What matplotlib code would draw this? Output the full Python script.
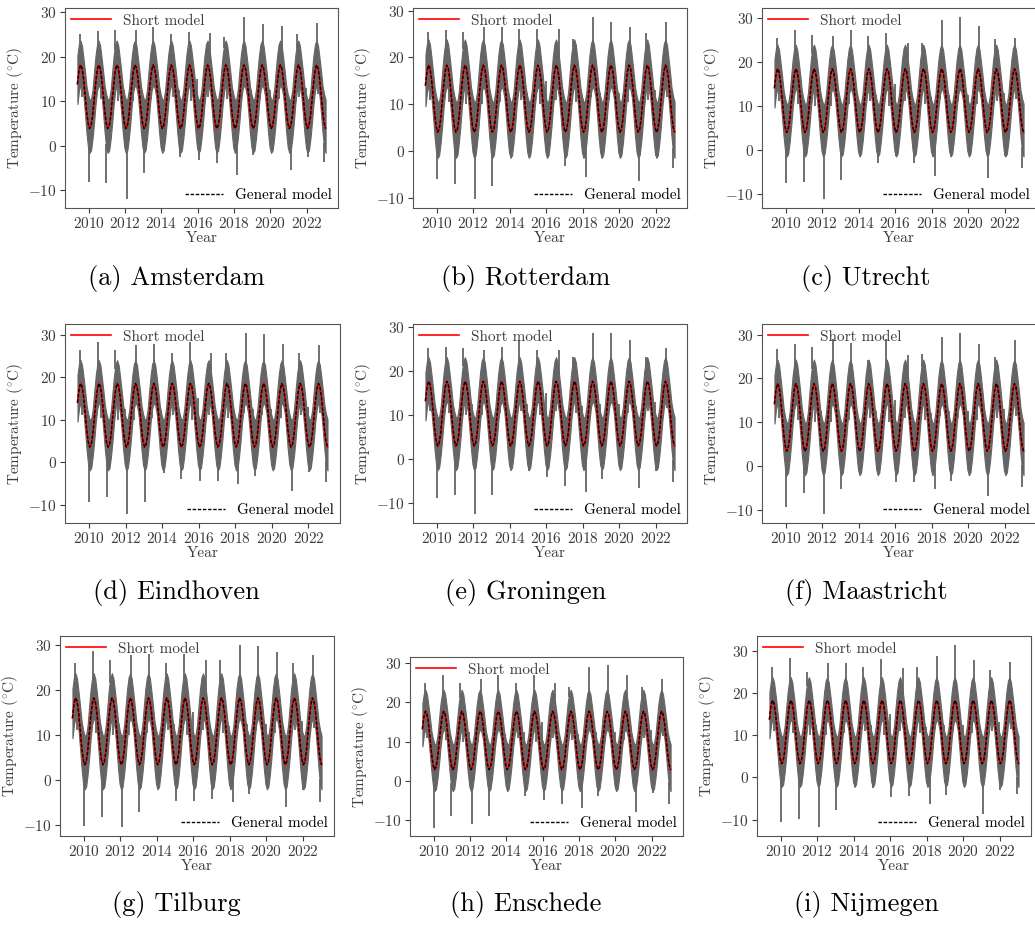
import numpy as np
import matplotlib
matplotlib.use("Agg")
import matplotlib.pyplot as plt

plt.rcParams["font.family"] = "cmr10"
plt.rcParams["mathtext.fontset"] = "cm"
plt.rcParams["axes.formatter.use_mathtext"] = True
plt.rcParams["font.size"] = 11

W, H = 1035, 927

cities = ["Amsterdam", "Rotterdam", "Utrecht", "Eindhoven", "Groningen",
          "Maastricht", "Tilburg", "Enschede", "Nijmegen"]
letters = ["a", "b", "c", "d", "e", "f", "g", "h", "i"]

# seasonal shape of the fitted model per month, 0 = winter low, 1 = summer high
month_shape = [0.01, 0.05, 0.20, 0.445, 0.70, 0.905, 0.995, 0.95, 0.79, 0.55, 0.29, 0.095]
# spread of the daily values around the model per month (deg C)
band_up = [6.5, 6.0, 6.0, 6.5, 6.5, 6.0, 5.5, 5.0, 4.5, 5.0, 5.5, 6.5]
band_lo = [-5.5, -5.5, -5.0, -5.0, -4.5, -4.5, -4.5, -4.5, -4.0, -4.5, -5.0, -5.5]

model_low = [3.7, 3.9, 3.8, 3.4, 2.8, 3.2, 3.2, 2.7, 3.1]
model_high = [18.2, 18.4, 18.5, 18.6, 17.7, 18.9, 18.3, 17.8, 18.3]

# dates of the yearly warmest and coldest days
summer_dates = [2009.50, 2010.52, 2011.45, 2012.60, 2013.56, 2014.52, 2015.50,
                2016.68, 2017.47, 2018.57, 2019.57, 2020.62, 2021.47, 2022.55]
winter_dates = [2010.02, 2010.97, 2012.09, 2013.05, 2014.08, 2015.05, 2016.05,
                2017.05, 2018.16, 2019.07, 2020.05, 2021.11, 2022.05, 2022.96]

summer_max = {
    "Amsterdam":  [25.1, 25.7, 25.9, 25.9, 26.6, 25.0, 25.5, 25.3, 24.4, 28.9, 27.4, 27.0, 25.1, 27.5],
    "Rotterdam":  [25.4, 25.9, 25.4, 26.5, 26.5, 26.1, 26.1, 26.1, 24.0, 28.6, 27.5, 26.5, 25.1, 27.5],
    "Utrecht":    [25.4, 27.3, 26.2, 25.8, 27.2, 25.8, 26.6, 24.3, 24.3, 29.5, 30.2, 28.1, 25.1, 25.4],
    "Eindhoven":  [26.3, 28.3, 26.3, 27.5, 27.9, 25.6, 28.3, 25.6, 25.6, 30.4, 30.2, 27.9, 25.6, 27.5],
    "Groningen":  [25.1, 25.5, 25.1, 24.7, 25.5, 27.0, 24.7, 24.7, 23.2, 28.6, 28.6, 27.0, 23.2, 25.1],
    "Maastricht": [26.8, 28.0, 27.2, 29.1, 28.1, 24.2, 29.1, 25.3, 25.7, 29.5, 30.4, 28.0, 24.9, 28.9],
    "Tilburg":    [25.9, 28.7, 26.7, 27.8, 28.1, 25.9, 28.1, 26.7, 26.7, 30.0, 29.8, 28.5, 25.9, 27.8],
    "Enschede":   [25.0, 27.0, 25.0, 26.0, 27.0, 25.0, 27.0, 25.0, 24.0, 29.0, 29.5, 27.0, 24.0, 26.0],
    "Nijmegen":   [26.2, 28.2, 25.0, 27.0, 27.0, 26.2, 27.9, 25.8, 26.2, 28.7, 31.3, 27.8, 25.4, 27.2],
}
winter_min = {
    "Amsterdam":  [-8.1, -8.4, -12.0, -6.2, -0.6, -2.5, -3.2, -4.0, -6.6, -2.1, -0.4, -5.4, -2.5, -3.6],
    "Rotterdam":  [-6.0, -7.0, -10.2, -7.4, 1.1, -0.7, -1.0, -3.1, -5.6, -1.4, 1.1, -6.3, -1.0, -3.5],
    "Utrecht":    [-7.6, -7.4, -11.2, -6.8, 0.8, -3.0, -1.5, -3.0, -6.0, -1.5, 0.8, -6.4, -1.5, -4.1],
    "Eindhoven":  [-9.5, -8.3, -12.2, -9.5, -2.5, -4.0, -4.4, -4.4, -5.2, -3.2, -0.9, -6.7, -2.3, -4.6],
    "Groningen":  [-8.9, -8.3, -12.5, -8.3, -0.1, -2.7, -4.2, -6.1, -7.6, -4.6, -1.6, -6.5, -2.7, -5.3],
    "Maastricht": [-9.5, -6.1, -11.0, -5.3, 0.0, -1.5, -3.8, -3.8, -5.3, -3.4, 0.0, -6.8, -1.5, -4.9],
    "Tilburg":    [-10.4, -8.3, -10.5, -7.2, -0.9, -4.7, -4.7, -4.2, -4.9, -3.1, -0.1, -6.1, -2.3, -4.9],
    "Enschede":   [-12.0, -9.0, -11.0, -9.0, -2.0, -4.0, -5.0, -6.0, -7.0, -4.0, -2.0, -8.0, -3.0, -6.0],
    "Nijmegen":   [-10.6, -9.8, -11.7, -7.8, -0.7, -2.6, -4.6, -4.4, -6.2, -4.2, -1.5, -8.6, -3.0, -4.0],
}

# mild winter days and cool summer days (similar in every city)
mild_dates = [2009.85, 2010.88, 2011.95, 2012.88, 2013.92, 2014.95, 2015.97,
              2016.90, 2017.95, 2018.95, 2019.98, 2020.92, 2021.98, 2022.85]
mild_high = [11.0, 10.5, 12.5, 11.5, 12.0, 12.5, 15.0, 11.0, 12.0, 12.5, 12.5, 12.0, 13.0, 13.0]
cool_dates = [2009.62, 2010.65, 2011.60, 2012.45, 2013.45, 2014.62, 2015.65,
              2016.55, 2017.62, 2018.45, 2019.45, 2020.50, 2021.60, 2022.65]
cool_low = [11.0, 10.5, 10.0, 10.0, 10.5, 11.0, 10.0, 11.0, 10.5, 11.5, 11.0, 10.5, 11.0, 11.5]

# axes boxes in pixels: left, top, width, height
boxes = [(65, 8, 273, 200), (413, 8, 274, 200), (762, 8, 274, 200),
         (65, 324, 275, 199), (413, 324, 274, 199), (762, 324, 274, 199),
         (60, 636, 274, 200), (410, 657, 273, 179), (757, 636, 274, 200)]
caption_x = [176, 526, 866]
caption_y = [278, 592, 905]

# month centres from May 2009 to January 2023
t = []
mi = []
for y in range(2009, 2024):
    for m in range(12):
        tt = y + (m + 0.5) / 12
        if 2009.33 < tt < 2023.1:
            t.append(tt)
            mi.append(m)
t = np.array(t)
mi = np.array(mi)

txt_col = "#3c3c3c"
grey = "#656565"
fig = plt.figure(figsize=(W / 100, H / 100), dpi=100)

for k, city in enumerate(cities):
    l, tp, w, h = boxes[k]
    ax = fig.add_axes([l / W, (H - tp - h) / H, w / W, h / H])
    lo, hi = model_low[k], model_high[k]
    model = lo + (hi - lo) * np.array(month_shape)[mi]
    upper = model + np.array(band_up)[mi]
    lower = model + np.array(band_lo)[mi]

    ax.fill_between(t, lower, upper, color=grey, lw=0.8, edgecolor=grey)
    ax.vlines(summer_dates, np.interp(summer_dates, t, upper) - 1, summer_max[city],
              color=grey, lw=1.3)
    ax.vlines(winter_dates, np.interp(winter_dates, t, lower) + 1, winter_min[city],
              color=grey, lw=1.3)
    ax.vlines(mild_dates, np.interp(mild_dates, t, upper) - 1, mild_high,
              color=grey, lw=1.3)
    ax.vlines(cool_dates, np.interp(cool_dates, t, lower) + 1, cool_low,
              color=grey, lw=1.3)

    short, = ax.plot(t, model, color="red", lw=1.2)
    general, = ax.plot(t, model, color="black", lw=1.0, dashes=(2.5, 1.2))

    ax.set_xticks([2010, 2012, 2014, 2016, 2018, 2020, 2022])
    ax.set_xlabel("Year", color=txt_col, labelpad=0)
    ax.set_ylabel(r"Temperature ($^{\circ}$C)", color=txt_col, labelpad=2)
    ax.tick_params(colors=txt_col, labelsize=11, pad=2.5)
    for s in ax.spines.values():
        s.set_color("#555555")

    leg1 = ax.legend([short], ["Short model"], loc="upper left", frameon=False,
                     borderaxespad=0, handlelength=2.6, fontsize=11, labelcolor=txt_col)
    ax.add_artist(leg1)
    ax.legend([general], ["General model"], loc="lower right", frameon=False,
              borderaxespad=0, handlelength=2.5, fontsize=11)

    fig.text(caption_x[k % 3] / W, 1 - caption_y[k // 3] / H,
             "(%s) %s" % (letters[k], city), ha="center", va="center", fontsize=19)

fig.savefig("out.png", dpi=100)
